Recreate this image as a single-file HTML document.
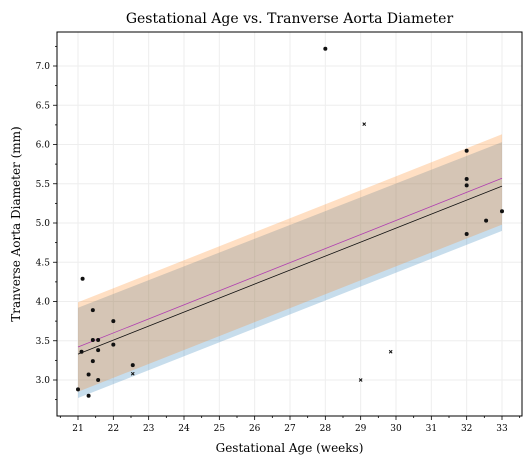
<!DOCTYPE html>
<html><head><meta charset="utf-8"><style>
body{margin:0;background:#fff;}
svg{display:block;font-family:"DejaVu Serif","Liberation Serif",serif;}
</style></head><body>
<svg id="c" width="532" height="466"></svg>
<script>
const ticksX=[21,22,23,24,25,26,27,28,29,30,31,32,33];
const ticksY=[3.0,3.5,4.0,4.5,5.0,5.5,6.0,6.5,7.0];
const dotX=[21.0,21.13,21.1,21.3,21.3,21.42,21.42,21.42,21.57,21.57,21.57,22.0,22.0,22.55,28.0,32.0,32.0,32.0,32.0,32.55,33.0];
const dotY=[2.88,4.29,3.36,3.07,2.80,3.89,3.51,3.24,3.51,3.38,3.00,3.75,3.45,3.19,7.22,5.92,5.56,5.48,4.86,5.03,5.15];
const crossX=[22.55,29.1,29.0,29.85];
const crossY=[3.08,6.26,3.0,3.36];
const lineEnds=[21,33];
const fitBlack=[3.33,5.47];
const fitMagenta=[3.42,5.57];
const bandOrangeHi=[3.99,6.13], bandOrangeLo=[2.85,4.98];
const bandBlueHi=[3.92,6.03], bandBlueLo=[2.77,4.90];
const L=57,R=522,T=32,B=416;
const sx=v=>78+(v-21)*(502-78)/12;
const sy=v=>380-(v-3)*78.5;
const svg=document.getElementById('c');
const NS='http://www.w3.org/2000/svg';
function mk(tag,at,parent){const e=document.createElementNS(NS,tag);for(const k in at)e.setAttribute(k,at[k]);(parent||svg).appendChild(e);return e;}
ticksX.forEach(t=>{const e=mk('line',{x1:sx(t),x2:sx(t),y1:T,y2:B,stroke:'#eee','stroke-width':1});

});
ticksY.forEach(t=>{const e=mk('line',{x1:L,x2:R,y1:sy(t),y2:sy(t),stroke:'#eee','stroke-width':1});

});
function band(hi,lo,col,name){const p=`${sx(lineEnds[0])},${sy(hi[0])} ${sx(lineEnds[1])},${sy(hi[1])} ${sx(lineEnds[1])},${sy(lo[1])} ${sx(lineEnds[0])},${sy(lo[0])}`;
const e=mk('polygon',{points:p,fill:col,'fill-opacity':0.25});

}
band(bandBlueHi,bandBlueLo,'#1f77b4','blue-prediction-band');
band(bandOrangeHi,bandOrangeLo,'#ff7f0e','orange-prediction-band');
function fit(v,col,name){const e=mk('line',{x1:sx(lineEnds[0]),y1:sy(v[0]),x2:sx(lineEnds[1]),y2:sy(v[1]),stroke:col,'stroke-width':0.8});

}
fit(fitMagenta,'#b03fb0','magenta-fit-line');
fit(fitBlack,'#111','black-fit-line');
dotX.forEach((x,i)=>{const e=mk('circle',{cx:sx(x),cy:sy(dotY[i]),r:2,fill:'#111'});

});
crossX.forEach((x,i)=>{const g=mk('path',{d:`M${sx(x)-1.5},${sy(crossY[i])-1.5}l3,3m0,-3l-3,3`,stroke:'#111','stroke-width':1});

});
const fr=mk('rect',{x:L,y:T,width:R-L,height:B-T,fill:'none',stroke:'#000','stroke-width':1});


for(let v=20.5;v<=33.5;v+=0.5){if(sx(v)<L||sx(v)>R)continue;const maj=Number.isInteger(v);mk('line',{x1:sx(v),x2:sx(v),y1:B,y2:B+(maj?4:2),stroke:'#000','stroke-width':0.8});}
for(let v=2.75;v<=7.3;v+=0.25){if(sy(v)<T||sy(v)>B)continue;const maj=Math.abs(v*2-Math.round(v*2))<1e-6;mk('line',{x1:L,x2:L-(maj?4:2),y1:sy(v),y2:sy(v),stroke:'#000','stroke-width':0.8});}
ticksX.forEach(t=>{const e=mk('text',{x:sx(t),y:B+15,'font-size':9,'text-anchor':'middle'});e.textContent=t;

});
ticksY.forEach(t=>{const e=mk('text',{x:L-7,y:sy(t)+3,'font-size':9,'text-anchor':'end'});e.textContent=t.toFixed(1);

});
const ti=mk('text',{x:(L+R)/2,y:23,'font-size':14,'text-anchor':'middle'});ti.textContent='Gestational Age vs. Tranverse Aorta Diameter';


const xt=mk('text',{x:(L+R)/2,y:452,'font-size':12,'text-anchor':'middle'});xt.textContent='Gestational Age (weeks)';


const yt=mk('text',{x:0,y:0,'font-size':12,'text-anchor':'middle',transform:`translate(20,${(T+B)/2}) rotate(-90)`});yt.textContent='Tranverse Aorta Diameter (mm)';


</script>
</body></html>
